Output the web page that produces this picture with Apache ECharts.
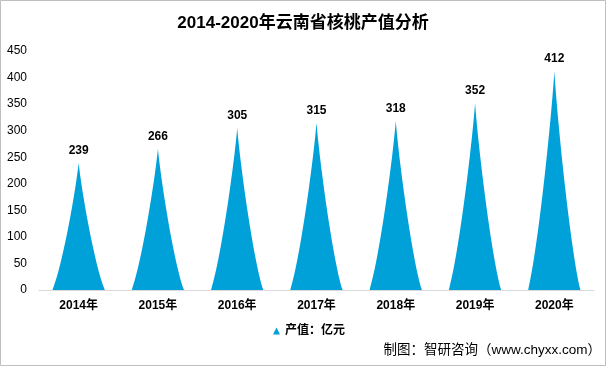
<!DOCTYPE html>
<html><head><meta charset="utf-8">
<script src="https://cdn.jsdelivr.net/npm/echarts@6/dist/echarts.min.js"></script>
<style>html,body{margin:0;padding:0;background:#fff}#c{width:606px;height:366px}</style>
</head><body><div id="c"></div>
<script>
const categories = ['2014年','2015年','2016年','2017年','2018年','2019年','2020年'];
const values = [239, 266, 305, 315, 318, 352, 412];
const seriesName = '产值：亿元';
const titleText = '2014-2020年云南省核桃产值分析';
const sourceText = '制图：智研咨询（www.chyxx.com）';

const chart = echarts.init(document.getElementById('c'));
const font = '"Liberation Sans","Noto Sans CJK SC",sans-serif';
chart.setOption({
  animation: false,
  backgroundColor: '#fff',
  textStyle: { fontFamily: font },
  title: {
    text: titleText, left: 'center', top: 10,
    textStyle: { fontSize: 17, fontWeight: 'bold', color: '#000', fontFamily: font }
  },
  legend: {
    data: [seriesName], left: 268, top: 320, icon: 'triangle',
    itemWidth: 7, itemHeight: 7, itemGap: 4,
    textStyle: { fontSize: 12, fontWeight: 'bold', color: '#000', fontFamily: font }
  },
  grid: { left: 39, right: 12, top: 51, bottom: 76, containLabel: false },
  xAxis: {
    type: 'category', data: categories,
    axisLine: { lineStyle: { color: '#d9d9d9' } },
    axisTick: { show: false },
    axisLabel: { color: '#000', fontSize: 12, fontWeight: 'bold', margin: 10 }
  },
  yAxis: {
    type: 'value', min: 0, max: 450, interval: 50,
    axisLine: { show: false }, axisTick: { show: false },
    splitLine: { show: false },
    axisLabel: { color: '#000', fontSize: 12, margin: 12 }
  },
  series: [{
    name: seriesName, type: 'pictorialBar', data: values,
    symbol: 'path://M0,10 C2,8 4.5,2 5,0 C5.5,2 8,8 10,10 Z',
    barCategoryGap: '34%',
    itemStyle: { color: '#00a0d9' },
    label: { show: true, position: 'top', distance: 6, color: '#000', fontSize: 12, fontWeight: 'bold' }
  }],
  graphic: [
    { type: 'rect', shape: { x: 0.5, y: 0.5, width: 605, height: 365 }, style: { fill: 'none', stroke: '#bfbfbf', lineWidth: 1 }, silent: true },
    { type: 'text', right: 5, top: 344, style: { text: sourceText, fontSize: 13.5, fill: '#000', fontFamily: font } }
  ]
});
</script></body></html>
